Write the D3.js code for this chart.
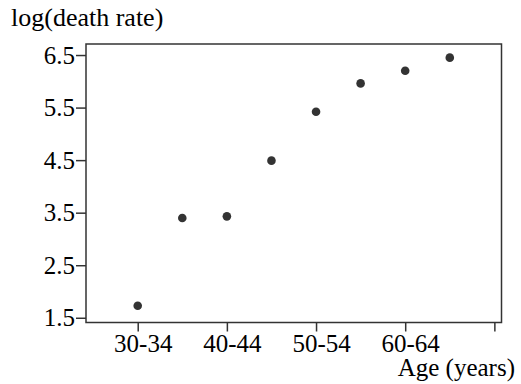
<!DOCTYPE html>
<html>
<head>
<meta charset="utf-8">
<script src="https://cdn.jsdelivr.net/npm/d3@7"></script>
<style>
  body { margin: 0; background: #fff; }
  text { font-family: "Liberation Serif", "Times New Roman", serif; fill: #000; }
</style>
</head>
<body>
<div id="chart"></div>
<script>
const ageGroups = ['30-34', '35-39', '40-44', '45-49', '50-54', '55-59', '60-64', '65-69'];
const logDeathRate = [1.73, 3.40, 3.43, 4.49, 5.42, 5.96, 6.20, 6.45];
const yTicks = [1.5, 2.5, 3.5, 4.5, 5.5, 6.5];
const xTickIndex = [0, 2, 4, 6, 8];
const xTickLabels = ['30-34', '40-44', '50-54', '60-64', ''];

const width = 521;
const height = 384;
const box = { left: 86, top: 44, right: 501.5, bottom: 322.5 };
const fontSize = 25;

const svg = d3.select('#chart')
  .append('svg')
  .attr('width', width)
  .attr('height', height);

const x = d3.scaleLinear().domain([-1.16, 8.16]).range([box.left, box.right]);
const y = d3.scaleLinear().domain([1.41, 6.71]).range([box.bottom, box.top]);

// frame
svg.append('rect')
  .attr('x', box.left)
  .attr('y', box.top)
  .attr('width', box.right - box.left)
  .attr('height', box.bottom - box.top)
  .attr('fill', 'none')
  .attr('stroke', '#333')
  .attr('stroke-width', 1.5);

const yAxis = svg.append('g')
  .attr('transform', `translate(${box.left},0)`)
  .call(d3.axisLeft(y).tickValues(yTicks).tickSize(10).tickPadding(1).tickFormat(d3.format('.1f')));

const xAxis = svg.append('g')
  .attr('transform', `translate(0,${box.bottom})`)
  .call(d3.axisBottom(x).tickValues(xTickIndex).tickSize(9).tickPadding(3)
    .tickFormat((d, i) => xTickLabels[i]));

[xAxis, yAxis].forEach(g => {
  g.select('.domain').remove();
  g.selectAll('line').attr('stroke', '#333').attr('stroke-width', 1.5);
  g.selectAll('text')
    .style('font-family', '"Liberation Serif", "Times New Roman", serif')
    .style('font-size', fontSize + 'px')
    .attr('fill', '#000');
});
xAxis.selectAll('text').attr('dx', 5);

// points
svg.append('g')
  .selectAll('circle')
  .data(logDeathRate)
  .enter()
  .append('circle')
  .attr('cx', (d, i) => x(i))
  .attr('cy', d => y(d))
  .attr('r', 4.3)
  .attr('fill', '#333');

// axis titles
svg.append('text')
  .attr('x', 11)
  .attr('y', 26)
  .style('font-size', '26px')
  .text('log(death rate)');

svg.append('text')
  .attr('x', 515)
  .attr('y', 376)
  .attr('text-anchor', 'end')
  .style('font-size', fontSize + 'px')
  .text('Age (years)');
</script>
</body>
</html>
